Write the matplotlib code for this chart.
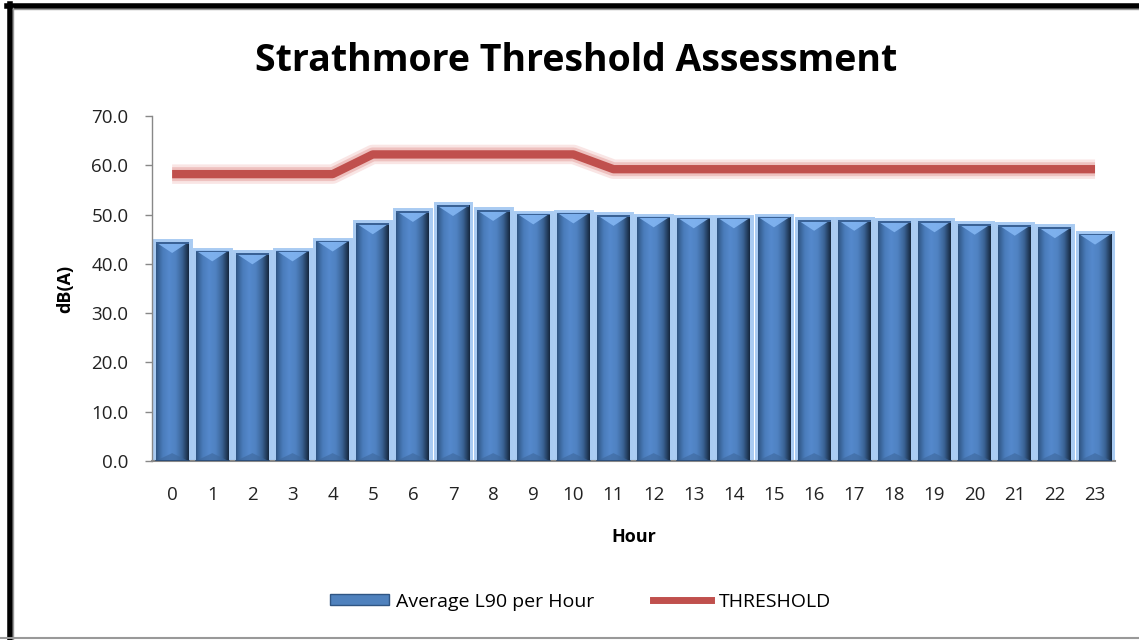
import matplotlib
matplotlib.use("Agg")
import matplotlib.pyplot as plt
import numpy as np
from matplotlib.patches import Rectangle, Polygon
from matplotlib.lines import Line2D
import matplotlib.patheffects as pe
from matplotlib.colors import LinearSegmentedColormap

hours = list(range(24))
hour_labels = [str(h) for h in hours]
avg_l90 = [44.4, 42.7, 42.1, 42.7, 44.7, 48.2, 50.7, 51.9, 50.9, 50.2, 50.4, 49.9,
           49.6, 49.4, 49.4, 49.6, 48.9, 48.9, 48.6, 48.6, 48.1, 47.9, 47.4, 46.1]
threshold = [58.2] * 5 + [62.2] * 6 + [59.2] * 13
y_ticks = [0, 10, 20, 30, 40, 50, 60, 70]

FONT = ["Open Sans", "DejaVu Sans"]
plt.rcParams['font.family'] = FONT

fig = plt.figure(figsize=(11.39, 6.4), dpi=100)
ax = fig.add_axes([0.1335, 0.2797, 0.8455, 0.5391])

bar_w = 0.82
cmap = LinearSegmentedColormap.from_list(
    "bevel", ["#2f5583", "#4a7cbb", "#5589cc", "#4f82c2", "#3b6496", "#16283f"])
grad = np.linspace(0, 1, 64).reshape(1, -1)

for x, v in zip(hours, avg_l90):
    x0 = x - bar_w / 2
    glow = Rectangle((x0, 0), bar_w, v, facecolor="#4F81BD",
                     edgecolor="#A9CBF2", linewidth=5, zorder=2)
    ax.add_patch(glow)
    im = ax.imshow(grad, extent=[x0, x0 + bar_w, 0, v], aspect="auto",
                   cmap=cmap, zorder=3, interpolation="bilinear")
    clip = Rectangle((x0, 0), bar_w, v, transform=ax.transData)
    im.set_clip_path(clip)
    tri = Polygon([(x0, v), (x0 + bar_w, v), (x, v - 2.2)], closed=True,
                  facecolor="#82b5f2", edgecolor="none", alpha=0.9, zorder=4)
    ax.add_patch(tri)
    top = Rectangle((x0, v - 0.35), bar_w, 0.35, facecolor="#3a6296",
                    edgecolor="none", zorder=5)
    ax.add_patch(top)
    bot = Polygon([(x0, 0), (x0 + bar_w, 0), (x, 1.6)], closed=True,
                  facecolor="#3d679c", edgecolor="none", alpha=0.6, zorder=4)
    ax.add_patch(bot)
    ax.plot([x0, x0 + bar_w], [0, 0], color="#2b4a72", lw=1.2, zorder=5)

ax.plot(hours, threshold, color="#C0504D", linewidth=6, solid_capstyle="butt",
        zorder=6,
        path_effects=[pe.Stroke(linewidth=14, foreground="#F5D0CF", alpha=0.55),
                      pe.Stroke(linewidth=10, foreground="#E8A9A7", alpha=0.6),
                      pe.Normal()])

ax.set_xlim(-0.5, 23.5)
ax.set_ylim(0, 70)
ax.set_yticks(y_ticks)
ax.set_yticklabels([f"{t:.1f}" for t in y_ticks], fontsize=13.5, color="#222222")
ax.set_xticks(hours)
ax.set_xticklabels(hour_labels, fontsize=13.5, color="#222222")
ax.tick_params(axis="y", length=5, width=1, color="#888888", pad=12)
ax.tick_params(axis="x", length=0, pad=18)
for s in ["top", "right"]:
    ax.spines[s].set_visible(False)
ax.spines["left"].set_color("#888888")
ax.spines["bottom"].set_color("#888888")
ax.spines["left"].set_linewidth(1)
ax.spines["bottom"].set_linewidth(1.5)

ax.set_ylabel("dB(A)", fontsize=13, fontweight="bold", labelpad=12)
ax.set_xlabel("Hour", fontsize=13, fontweight="bold", labelpad=17)

fig.text(0.506, 0.905, "Strathmore Threshold Assessment", ha="center", va="center",
         fontsize=27, fontweight="bold", color="black")

handles = [Rectangle((0, 0), 1, 1, facecolor="#4F81BD", edgecolor="#2f5583"),
           Line2D([0], [0], color="#C0504D", lw=5)]
fig.legend(handles, ["Average L90 per Hour", "THRESHOLD"], loc="center",
           bbox_to_anchor=(0.51, 0.06), ncol=2, frameon=False, fontsize=14,
           handlelength=3.0, handleheight=0.5, columnspacing=3.0, handletextpad=0.4)

# frame
fig.add_artist(Line2D([0.0088, 0.0088], [0, 0.9937], color="black", lw=4,
                      transform=fig.transFigure))
fig.add_artist(Line2D([0.0065, 1.0], [0.9906, 0.9906], color="black", lw=4,
                      transform=fig.transFigure))
fig.add_artist(Line2D([0.011, 0.011], [0, 0.987], color="#999999", lw=1,
                      transform=fig.transFigure))
fig.add_artist(Line2D([0.011, 1.0], [0.986, 0.986], color="#999999", lw=1,
                      transform=fig.transFigure))
fig.add_artist(Line2D([0.0, 1.0], [0.003, 0.003], color="#999999", lw=1.5,
                      transform=fig.transFigure))

fig.savefig("out.png", dpi=100)
